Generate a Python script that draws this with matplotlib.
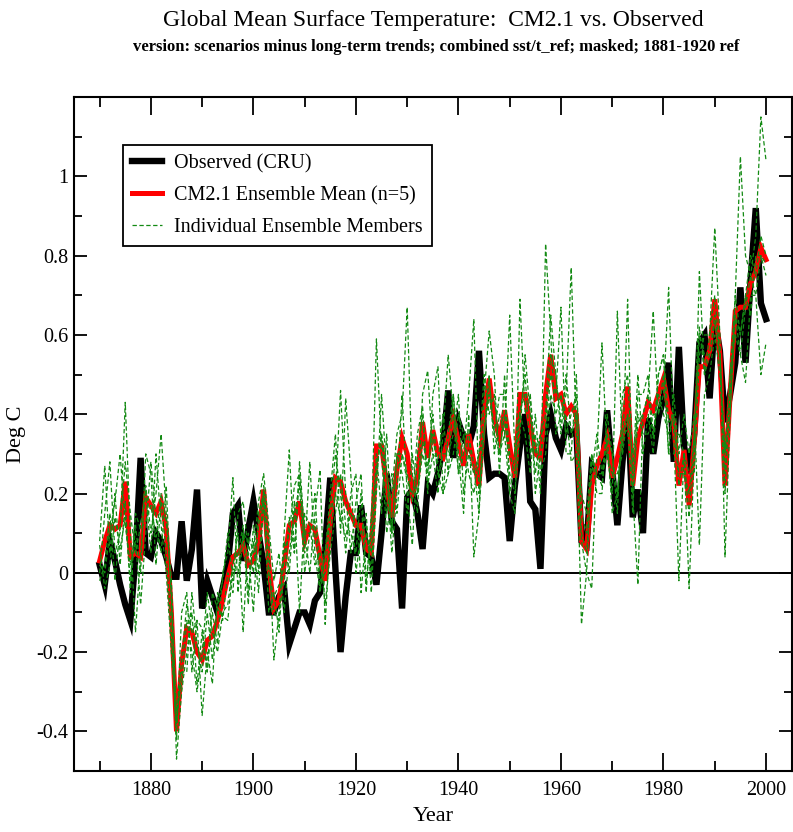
import matplotlib
matplotlib.use("Agg")
import matplotlib.pyplot as plt
import numpy as np

plt.rcParams['font.family'] = ['Liberation Serif', 'DejaVu Serif']

years = np.arange(1870, 2001)

# Observed (CRU)
observed = [
    0.02, -0.03, 0.08, 0.03, -0.03, -0.08, -0.12, 0.04, 0.29, 0.05,   # 1870s
    0.04, 0.10, 0.08, 0.04, -0.01, -0.01, 0.13, -0.02, 0.06, 0.21,    # 1880s
    -0.09, -0.02, -0.06, -0.10, -0.04, 0.02, 0.15, 0.17, 0.03, 0.11,  # 1890s
    0.18, 0.10, 0.02, -0.10, -0.10, -0.06, -0.04, -0.18, -0.14, -0.10, # 1900s
    -0.10, -0.13, -0.07, -0.05, 0.07, 0.24, 0.01, -0.20, -0.06, 0.05, # 1910s
    0.05, 0.17, 0.05, 0.04, -0.03, 0.10, 0.25, 0.13, 0.11, -0.09,     # 1920s
    0.19, 0.21, 0.15, 0.06, 0.22, 0.20, 0.25, 0.32, 0.46, 0.29,       # 1930s
    0.38, 0.34, 0.32, 0.37, 0.56, 0.35, 0.24, 0.25, 0.25, 0.24,       # 1940s
    0.08, 0.22, 0.32, 0.40, 0.18, 0.16, 0.01, 0.35, 0.40, 0.34,       # 1950s
    0.31, 0.37, 0.35, 0.36, 0.08, 0.07, 0.27, 0.25, 0.24, 0.41,       # 1960s
    0.26, 0.12, 0.28, 0.42, 0.14, 0.21, 0.10, 0.39, 0.30, 0.39,       # 1970s
    0.44, 0.53, 0.28, 0.57, 0.32, 0.25, 0.35, 0.58, 0.60, 0.44,       # 1980s
    0.64, 0.56, 0.38, 0.45, 0.53, 0.72, 0.53, 0.74, 0.92, 0.68,       # 1990s
    0.64,
]

# CM2.1 ensemble mean (n=5)
ens_mean = [
    0.03, 0.08, 0.12, 0.11, 0.12, 0.23, 0.04, 0.05, 0.04, 0.19,
    0.17, 0.15, 0.18, 0.11, -0.10, -0.40, -0.23, -0.14, -0.15, -0.20,
    -0.22, -0.17, -0.16, -0.12, -0.07, -0.01, 0.04, 0.05, 0.07, 0.02,
    0.03, 0.08, 0.21, 0.02, -0.09, -0.07, 0.02, 0.12, 0.13, 0.18,
    0.08, 0.12, 0.11, 0.04, -0.02, 0.13, 0.24, 0.23, 0.18, 0.15,
    0.12, 0.12, 0.06, 0.05, 0.32, 0.32, 0.22, 0.14, 0.26, 0.34,
    0.30, 0.20, 0.24, 0.38, 0.29, 0.36, 0.30, 0.29, 0.34, 0.39,
    0.33, 0.27, 0.35, 0.28, 0.22, 0.40, 0.49, 0.39, 0.34, 0.41,
    0.32, 0.24, 0.45, 0.45, 0.37, 0.30, 0.29, 0.45, 0.55, 0.44,
    0.45, 0.40, 0.42, 0.40, 0.08, 0.06, 0.22, 0.27, 0.30, 0.34,
    0.24, 0.29, 0.35, 0.47, 0.22, 0.34, 0.38, 0.43, 0.41, 0.45,
    0.49, 0.41, 0.38, 0.22, 0.31, 0.17, 0.33, 0.52, 0.52, 0.56,
    0.69, 0.55, 0.22, 0.45, 0.66, 0.67, 0.67, 0.73, 0.76, 0.82,
    0.79,
]

# individual ensemble members
member1 = [
    0.00, 0.15, 0.28, 0.05, 0.10, 0.43, 0.10, -0.15, 0.05, 0.22,
    0.10, 0.20, 0.35, 0.15, -0.05, -0.47, -0.30, -0.20, -0.10, -0.28,
    -0.15, -0.25, -0.10, -0.18, 0.00, 0.05, 0.24, -0.05, 0.10, -0.08,
    0.12, 0.00, 0.22, 0.08, -0.22, -0.10, 0.10, 0.31, 0.05, 0.28,
    0.10, 0.00, 0.15, 0.26, -0.13, 0.10, 0.20, 0.46, 0.20, 0.05,
    0.18, 0.25, -0.02, 0.10, 0.59, 0.30, 0.10, 0.20, 0.35, 0.40,
    0.67, 0.25, 0.15, 0.45, 0.51, 0.30, 0.20, 0.35, 0.55, 0.40,
    0.25, 0.30, 0.45, 0.64, 0.20, 0.35, 0.50, 0.30, 0.40, 0.35,
    0.65, 0.30, 0.40, 0.50, 0.30, 0.35, 0.20, 0.83, 0.60, 0.35,
    0.40, 0.45, 0.77, 0.35, -0.13, 0.00, -0.04, 0.30, 0.58, 0.30,
    0.20, 0.66, 0.30, 0.69, 0.20, -0.03, 0.40, 0.45, 0.66, 0.40,
    0.45, 0.72, 0.35, -0.02, 0.30, -0.04, 0.30, 0.76, 0.50, 0.60,
    0.87, 0.60, 0.04, 0.40, 0.70, 1.05, 0.80, 0.75, 0.85, 1.15,
    1.04,
]
member2 = [
    0.08, 0.27, 0.05, 0.20, 0.02, 0.18, -0.05, 0.12, 0.00, 0.30,
    0.25, 0.02, 0.18, 0.05, -0.15, -0.42, -0.10, -0.05, -0.25, -0.12,
    -0.36, -0.20, -0.28, -0.05, -0.12, 0.00, -0.05, 0.15, 0.18, 0.05,
    -0.10, 0.15, 0.20, -0.10, -0.05, -0.15, 0.05, 0.10, 0.22, 0.25,
    0.05, 0.28, 0.05, -0.05, 0.05, 0.20, 0.35, 0.10, 0.44, 0.25,
    0.00, 0.10, 0.15, -0.05, 0.20, 0.45, 0.25, 0.05, 0.20, 0.45,
    0.20, 0.07, 0.30, 0.40, 0.20, 0.45, 0.52, 0.20, 0.25, 0.45,
    0.30, 0.15, 0.40, 0.04, 0.15, 0.45, 0.61, 0.50, 0.25, 0.50,
    0.20, 0.15, 0.69, 0.40, 0.45, 0.20, 0.30, 0.35, 0.50, 0.45,
    0.67, 0.30, 0.30, 0.50, 0.15, 0.10, 0.30, 0.20, 0.20, 0.40,
    0.30, 0.15, 0.45, 0.50, 0.25, 0.50, 0.30, 0.40, 0.30, 0.50,
    0.55, 0.30, 0.45, 0.30, 0.40, 0.30, 0.40, 0.07, 0.45, 0.50,
    0.60, 0.50, 0.30, 0.50, 0.60, 0.55, 0.48, 0.70, 0.70, 0.50,
    0.58,
]
member3 = [
    0.02, 0.00, 0.10, 0.18, 0.30, 0.12, 0.02, 0.08, -0.08, 0.10,
    0.28, 0.14, 0.05, 0.22, -0.08, -0.35, -0.28, -0.12, -0.20, -0.30,
    -0.20, -0.05, -0.15, -0.20, -0.10, -0.08, 0.02, 0.10, -0.15, 0.10,
    0.05, 0.18, 0.25, 0.12, -0.02, 0.05, -0.10, 0.05, 0.15, 0.22,
    0.00, 0.10, 0.20, -0.02, 0.00, 0.15, 0.30, 0.20, 0.05, 0.20,
    0.25, -0.05, 0.10, 0.05, 0.30, 0.15, 0.35, 0.10, 0.30, 0.25,
    0.15, 0.30, 0.20, 0.30, 0.25, 0.40, 0.25, 0.30, 0.30, 0.35,
    0.45, 0.20, 0.30, 0.25, 0.30, 0.50, 0.40, 0.45, 0.30, 0.40,
    0.25, 0.20, 0.35, 0.55, 0.40, 0.25, 0.35, 0.40, 0.65, 0.50,
    0.35, 0.50, 0.35, 0.40, 0.10, 0.05, 0.25, 0.35, 0.25, 0.35,
    0.15, 0.20, 0.35, 0.40, 0.15, 0.45, 0.45, 0.50, 0.35, 0.45,
    0.40, 0.35, 0.40, 0.25, 0.25, 0.20, 0.35, 0.60, 0.55, 0.55,
    0.65, 0.55, 0.25, 0.45, 0.65, 0.60, 0.70, 0.80, 0.75, 0.85,
    0.80,
]
member4 = [
    -0.02, 0.02, 0.15, -0.02, 0.12, 0.28, 0.15, 0.05, 0.12, 0.20,
    0.05, 0.30, 0.12, 0.00, -0.20, -0.38, -0.25, -0.25, -0.05, -0.18,
    -0.25, -0.10, -0.22, -0.08, -0.02, 0.10, -0.02, 0.05, 0.12, -0.05,
    0.08, -0.05, 0.18, 0.00, -0.10, -0.12, 0.08, 0.00, 0.18, -0.10,
    0.15, 0.12, 0.02, 0.05, -0.08, 0.05, 0.15, 0.25, 0.12, 0.10,
    0.05, 0.20, -0.05, 0.15, 0.25, 0.35, 0.15, 0.25, 0.15, 0.30,
    0.25, 0.18, 0.35, 0.42, 0.22, 0.30, 0.28, 0.40, 0.25, 0.30,
    0.40, 0.35, 0.25, 0.20, 0.30, 0.35, 0.45, 0.35, 0.45, 0.45,
    0.30, 0.25, 0.40, 0.35, 0.25, 0.40, 0.25, 0.30, 0.45, 0.40,
    0.45, 0.35, 0.40, 0.45, 0.20, 0.15, 0.30, 0.25, 0.25, 0.30,
    0.25, 0.25, 0.30, 0.40, 0.30, 0.40, 0.35, 0.35, 0.40, 0.40,
    0.50, 0.30, 0.30, 0.35, 0.30, 0.25, 0.25, 0.55, 0.60, 0.60,
    0.70, 0.55, 0.20, 0.50, 0.70, 0.60, 0.70, 0.65, 0.80, 0.80,
    0.75,
]
member5 = [
    0.07, -0.04, 0.02, 0.14, 0.06, 0.14, -0.02, 0.15, 0.11, 0.13,
    0.17, 0.09, 0.20, 0.13, -0.02, -0.38, -0.22, -0.08, -0.15, -0.12,
    -0.14, -0.25, -0.05, -0.09, -0.11, -0.12, 0.01, 0.00, 0.10, 0.08,
    0.00, 0.12, 0.20, 0.00, -0.06, -0.03, -0.03, 0.14, 0.05, 0.25,
    0.10, 0.10, 0.13, -0.04, 0.06, 0.15, 0.20, 0.14, 0.09, 0.15,
    0.12, 0.10, 0.12, 0.00, 0.26, 0.35, 0.25, 0.10, 0.30, 0.30,
    0.23, 0.20, 0.20, 0.33, 0.27, 0.35, 0.25, 0.20, 0.35, 0.45,
    0.25, 0.35, 0.35, 0.27, 0.15, 0.35, 0.49, 0.35, 0.30, 0.35,
    0.20, 0.30, 0.41, 0.45, 0.45, 0.30, 0.35, 0.37, 0.55, 0.50,
    0.38, 0.40, 0.28, 0.30, 0.08, 0.00, 0.29, 0.25, 0.22, 0.35,
    0.30, 0.19, 0.35, 0.36, 0.20, 0.38, 0.40, 0.45, 0.34, 0.50,
    0.55, 0.38, 0.40, 0.22, 0.30, 0.14, 0.35, 0.62, 0.50, 0.55,
    0.63, 0.55, 0.31, 0.40, 0.65, 0.55, 0.67, 0.75, 0.70, 0.80,
    0.78,
]
members = [member1, member2, member3, member4, member5]

fig = plt.figure(figsize=(7.93, 8.32), dpi=100)
ax = fig.add_axes([0.0933, 0.0733, 0.905, 0.81])

ax.axhline(0, color='black', lw=1.4, zorder=1)
ax.plot(years, observed, color='black', lw=4.6, solid_joinstyle='miter',
        label='Observed (CRU)', zorder=2)
ax.plot(years, ens_mean, color='#ff0000', lw=3.6, solid_joinstyle='miter',
        label='CM2.1 Ensemble Mean (n=5)', zorder=3)
for i, m in enumerate(members):
    ax.plot(years, m, color='#138a13', lw=0.9, ls=(0, (3.5, 2.0)),
            label='Individual Ensemble Members' if i == 0 else None, zorder=4)

ax.set_xlim(1865, 2005)
ax.set_ylim(-0.5, 1.2)
ax.set_xticks(np.arange(1880, 2001, 20))
ax.set_xticks(np.arange(1870, 2001, 10), minor=True)
ax.set_yticks([-0.4, -0.2, 0, 0.2, 0.4, 0.6, 0.8, 1.0])
ax.set_yticklabels(['-0.4', '-0.2', '0', '0.2', '0.4', '0.6', '0.8', '1'])
ax.set_yticks(np.arange(-0.5, 1.15, 0.1), minor=True)

ax.tick_params(axis='x', which='major', direction='in', length=13, width=1.3,
               top=True, labelsize=14.5, pad=7)
ax.tick_params(axis='x', which='minor', direction='in', length=7.5, width=1.3, top=True)
ax.tick_params(axis='y', which='major', direction='in', length=9.5, width=1.3,
               right=True, labelsize=14.5, pad=4)
ax.tick_params(axis='y', which='minor', direction='in', length=6, width=1.3, right=True)
for s in ax.spines.values():
    s.set_linewidth(1.5)

ax.set_xlabel('Year', fontsize=16)
ax.xaxis.set_label_coords(0.5, -0.053)
ax.set_ylabel('Deg C', fontsize=16)
ax.yaxis.set_label_coords(-0.067, 0.5)

leg = ax.legend(loc='upper left', bbox_to_anchor=(0.068, 0.929), fontsize=14.5,
                frameon=True, fancybox=False, edgecolor='black', framealpha=1,
                handlelength=1.5, handletextpad=0.6, borderpad=0.45, labelspacing=0.62,
                borderaxespad=0)
leg.get_frame().set_linewidth(1.3)

fig.text(0.546, 0.975, 'Global Mean Surface Temperature:  CM2.1 vs. Observed',
         ha='center', va='center', fontsize=17)
fig.text(0.55, 0.943, 'version: scenarios minus long-term trends; combined sst/t_ref; masked; 1881-1920 ref',
         ha='center', va='center', fontsize=12, fontweight='bold')

fig.savefig('out.png', dpi=100)
